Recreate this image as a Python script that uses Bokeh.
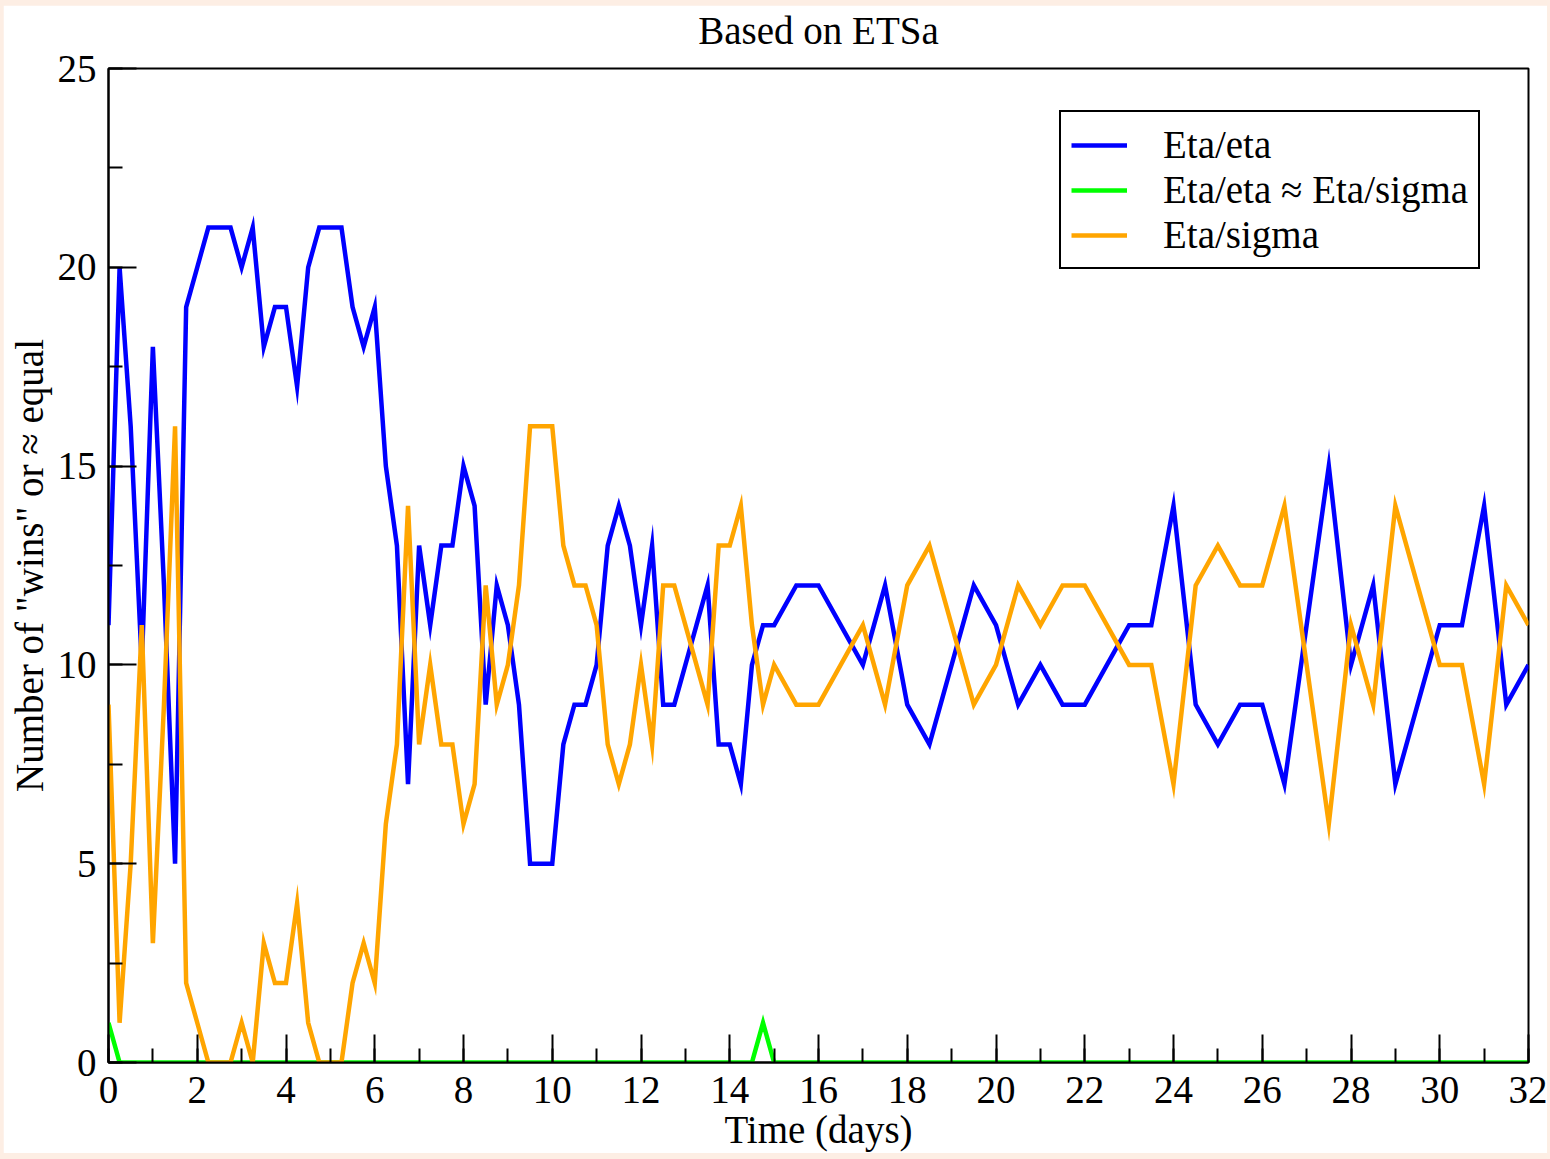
from bokeh.plotting import figure
from bokeh.models import Range1d, Legend, LegendItem, FixedTicker, ColumnDataSource, LinearAxis
from bokeh.layouts import column
from bokeh.embed import file_html
from bokeh.resources import INLINE

# ---- data -------------------------------------------------------------
time_days = [
    0.0, 0.25, 0.5, 0.75, 1.0, 1.25, 1.5, 1.75, 2.0, 2.25, 2.5, 2.75,
    3.0, 3.25, 3.5, 3.75, 4.0, 4.25, 4.5, 4.75, 5.0, 5.25, 5.5, 5.75,
    6.0, 6.25, 6.5, 6.75, 7.0, 7.25, 7.5, 7.75, 8.0, 8.25, 8.5, 8.75,
    9.0, 9.25, 9.5, 9.75, 10.0, 10.25, 10.5, 10.75, 11.0, 11.25, 11.5, 11.75,
    12.0, 12.25, 12.5, 12.75, 13.0, 13.25, 13.5, 13.75, 14.0, 14.25, 14.5, 14.75,
    15.0, 15.5, 16.0, 16.5, 17.0, 17.5, 18.0, 18.5, 19.0, 19.5, 20.0,
    20.5, 21.0, 21.5, 22.0, 22.5, 23.0, 23.5, 24.0, 24.5, 25.0,
    25.5, 26.0, 26.5, 27.0, 27.5, 28.0, 28.5, 29.0, 29.5, 30.0,
    30.5, 31.0, 31.5, 32.0,
]

eta_eta = [
    11, 20, 16, 10, 18, 12, 5, 19, 20, 21, 21, 21,
    20, 21, 18, 19, 19, 17, 20, 21, 21, 21, 19, 18,
    19, 15, 13, 7, 13, 11, 13, 13, 15, 14, 9, 12,
    11, 9, 5, 5, 5, 8, 9, 9, 10, 13, 14, 13,
    11, 13, 9, 9, 10, 11, 12, 8, 8, 7, 10, 11,
    11, 12, 12, 11, 10, 12, 9, 8, 10, 12, 11,
    9, 10, 9, 9, 10, 11, 11, 14, 9, 8,
    9, 9, 7, 11, 15, 10, 12, 7, 9, 11,
    11, 14, 9, 10,
]

eta_equal = [
    1, 0, 0, 0, 0, 0, 0, 0, 0, 0, 0, 0,
    0, 0, 0, 0, 0, 0, 0, 0, 0, 0, 0, 0,
    0, 0, 0, 0, 0, 0, 0, 0, 0, 0, 0, 0,
    0, 0, 0, 0, 0, 0, 0, 0, 0, 0, 0, 0,
    0, 0, 0, 0, 0, 0, 0, 0, 0, 0, 0, 1,
    0, 0, 0, 0, 0, 0, 0, 0, 0, 0, 0,
    0, 0, 0, 0, 0, 0, 0, 0, 0, 0,
    0, 0, 0, 0, 0, 0, 0, 0, 0, 0,
    0, 0, 0, 0,
]

eta_sigma = [
    9, 1, 5, 11, 3, 9, 16, 2, 1, 0, 0, 0,
    1, 0, 3, 2, 2, 4, 1, 0, 0, 0, 2, 3,
    2, 6, 8, 14, 8, 10, 8, 8, 6, 7, 12, 9,
    10, 12, 16, 16, 16, 13, 12, 12, 11, 8, 7, 8,
    10, 8, 12, 12, 11, 10, 9, 13, 13, 14, 11, 9,
    10, 9, 9, 10, 11, 9, 12, 13, 11, 9, 10,
    12, 11, 12, 12, 11, 10, 10, 7, 12, 13,
    12, 12, 14, 10, 6, 11, 9, 14, 12, 10,
    10, 7, 12, 11,
]

series_labels = ["Eta/eta", "Eta/eta \u2248 Eta/sigma", "Eta/sigma"]
series_colors = ["#0000ff", "#00ff00", "#ffa500"]

x_major_ticks = [0, 2, 4, 6, 8, 10, 12, 14, 16, 18, 20, 22, 24, 26, 28, 30, 32]
x_minor_ticks = list(range(0, 33))
y_major_ticks = [0, 5, 10, 15, 20, 25]
y_minor_ticks = [0, 2.5, 5, 7.5, 10, 12.5, 15, 17.5, 20, 22.5, 25]

title_text = "Based on ETSa"
x_label = "Time (days)"
y_label = "Number of \"wins\" or \u2248 equal"

FONT = "Liberation Serif"
FS = "39px"

# ---- figure -----------------------------------------------------------
source = ColumnDataSource(dict(t=time_days, a=eta_eta, b=eta_equal, c=eta_sigma))

p = figure(
    frame_width=1420, frame_height=994,
    x_range=Range1d(0, 32), y_range=Range1d(0, 25),
    output_backend="svg", toolbar_location=None,
    min_border_left=105, min_border_right=19,
    min_border_top=60, min_border_bottom=91,
    background_fill_color="white", border_fill_color="white",
    margin=(5, 3, 6, 3),
)

p.grid.visible = False
p.outline_line_color = "black"
p.outline_line_width = 2

for ax, major, minor, lab in ((p.xaxis[0], x_major_ticks, x_minor_ticks, x_label),
                              (p.yaxis[0], y_major_ticks, y_minor_ticks, y_label)):
    ax.ticker = FixedTicker(ticks=major, minor_ticks=minor)
    ax.axis_label = lab
    ax.axis_label_text_font = FONT
    ax.axis_label_text_font_size = FS
    ax.axis_label_text_font_style = "normal"
    ax.axis_label_text_color = "black"
    ax.major_label_text_font = FONT
    ax.major_label_text_font_size = FS
    ax.major_label_text_color = "black"
    ax.axis_line_width = 2
    ax.axis_line_color = "black"
    ax.major_tick_in = 28
    ax.major_tick_out = 0
    ax.minor_tick_in = 14
    ax.minor_tick_out = 0
    ax.major_tick_line_width = 2
    ax.minor_tick_line_width = 2
    ax.major_tick_line_color = "black"
    ax.minor_tick_line_color = "black"

p.xaxis.major_label_standoff = 14
p.yaxis.major_label_standoff = 12
p.xaxis.axis_label_standoff = 2
p.yaxis.axis_label_standoff = 4

# title shown as the label of a bare axis above the frame
top_axis = LinearAxis(
    ticker=FixedTicker(ticks=[]),
    axis_label=title_text,
    axis_label_text_font=FONT, axis_label_text_font_size=FS,
    axis_label_text_font_style="normal", axis_label_text_color="black",
    axis_label_standoff=17,
    axis_line_color=None, major_tick_line_color=None, minor_tick_line_color=None,
    major_label_text_font_size="0px",
)
p.add_layout(top_axis, "above")

r_a = p.line("t", "a", source=source, line_color=series_colors[0], line_width=4.5, line_join="miter")
r_b = p.line("t", "b", source=source, line_color=series_colors[1], line_width=4.5, line_join="miter")
r_c = p.line("t", "c", source=source, line_color=series_colors[2], line_width=4.5, line_join="miter")

legend = Legend(
    items=[LegendItem(label=series_labels[0], renderers=[r_a]),
           LegendItem(label=series_labels[1], renderers=[r_b]),
           LegendItem(label=series_labels[2], renderers=[r_c])],
    location=(951, 793),
    label_text_font=FONT, label_text_font_size=FS, label_text_color="black",
    glyph_width=56, glyph_height=40, label_standoff=36,
    padding=10, spacing=0, margin=0,
    border_line_color="black", border_line_width=2, border_line_alpha=1.0,
    background_fill_color="white", background_fill_alpha=1.0,
)
p.add_layout(legend, "center")

page = column(p, styles={"background-color": "#fdeee4"})

open("out.html", "w").write(file_html(page, INLINE))
